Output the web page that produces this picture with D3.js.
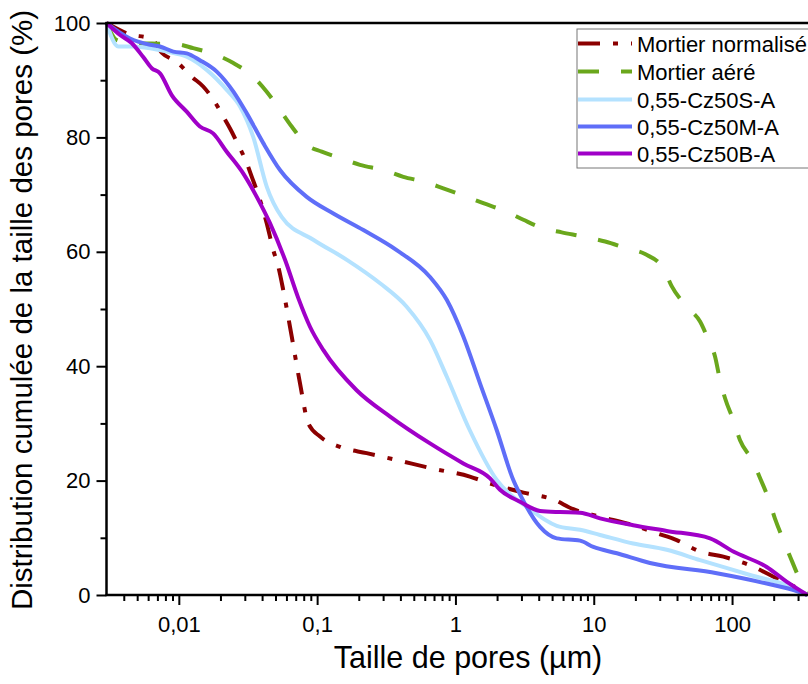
<!DOCTYPE html>
<html><head><meta charset="utf-8">
<script src="https://cdn.jsdelivr.net/npm/d3@7"></script>
<style>
html,body{margin:0;padding:0;background:#fff;}
svg{display:block;font-family:"Liberation Sans",Arial,sans-serif;}
</style></head>
<body>
<svg id="chart" width="808" height="684"></svg>
<script>
// ---- data ----
const seriesNames = ["Mortier normalisé","Mortier aéré","0,55-Cz50S-A","0,55-Cz50M-A","0,55-Cz50B-A"];
const mortierNormalise = [[0.003,100],[0.00431,98.1],[0.00637,97.2],[0.00752,94.8],[0.00966,93.2],[0.0124,90.6],[0.0150,88.9],[0.0182,86.2],[0.0210,83.6],[0.0234,81.6],[0.0269,78.7],[0.0310,75.5],[0.0337,73.1],[0.0386,69.1],[0.0432,65.0],[0.0482,60.3],[0.0524,57.4],[0.0569,53.3],[0.0655,45.2],[0.0752,37.0],[0.0863,30.0],[0.105,27.7],[0.146,25.9],[0.228,24.8],[0.376,23.6],[0.655,22.2],[1.27,20.7],[1.78,19.5],[3.10,17.9],[5.10,16.7],[7.12,15.0],[11.1,13.7],[19.3,12.2],[28.5,10.8],[39.8,9.6],[58.7,7.6],[86.5,6.7],[135,5.2],[199,3.2],[310,0.9],[350,0]];
const mortierAere = [[0.003,100],[0.00356,97.0],[0.00469,96.4],[0.00637,96.4],[0.00966,96.3],[0.0127,95.6],[0.0188,94.4],[0.0248,93.0],[0.0356,90.3],[0.0432,88.0],[0.0539,84.8],[0.0655,81.9],[0.0841,78.7],[0.108,77.5],[0.155,76.2],[0.204,75.2],[0.301,74.3],[0.420,73.1],[0.603,72.2],[0.817,71.1],[1.21,69.6],[1.59,68.5],[2.35,67.0],[3.10,65.6],[4.32,64.1],[5.87,63.4],[8.65,62.6],[12.1,61.8],[17.3,60.6],[23.5,59.6],[31.9,57.1],[36.6,54.0],[47.0,50.4],[58.7,47.8],[67.4,44.6],[75.3,41.7],[81.8,37.6],[89.0,34.4],[102,30.6],[114,27.1],[142,23.3],[159,20.5],[183,16.9],[204,13.4],[235,9.6],[263,6.7],[310,2.6],[350,0]];
const cz50S = [[0.003,100],[0.00365,95.9],[0.00469,95.9],[0.00619,95.6],[0.00817,95.0],[0.0114,94.1],[0.0159,91.8],[0.0222,88.3],[0.0277,85.4],[0.0345,80.1],[0.0432,71.4],[0.0554,66.1],[0.0938,62.1],[0.164,58.6],[0.285,54.5],[0.444,50.4],[0.655,44.6],[0.865,38.2],[1.27,28.8],[1.99,20.1],[3.28,15.4],[5.40,12.1],[7.96,11.4],[11.1,10.5],[19.3,9.0],[33.7,7.9],[58.7,6.1],[135,3.5],[300,0.9],[350,0]];
const cz50M = [[0.003,100],[0.00444,97.3],[0.00619,96.2],[0.00731,95.9],[0.00912,95.0],[0.0114,94.7],[0.0142,93.5],[0.0188,91.5],[0.0248,88.0],[0.0310,84.2],[0.0408,79.0],[0.0539,74.3],[0.0841,69.6],[0.131,66.7],[0.216,63.8],[0.376,60.3],[0.655,55.6],[0.865,51.6],[1.14,45.2],[1.505,37.0],[1.99,28.8],[2.62,20.1],[2.93,17.6],[4.09,11.9],[5.40,9.9],[7.96,9.5],[9.93,8.4],[14.7,7.3],[25.5,5.6],[77.5,3.8],[178,2.0],[300,0.6],[350,0]];
const cz50B = [[0.003,100],[0.00376,97.9],[0.00456,96.5],[0.00551,94.1],[0.00637,92.1],[0.00731,91.2],[0.00888,87.4],[0.0114,84.5],[0.0142,81.9],[0.0177,80.7],[0.0222,77.5],[0.0292,73.7],[0.0366,69.6],[0.0456,65.0],[0.0586,58.6],[0.0731,51.9],[0.0888,46.9],[0.111,42.8],[0.193,35.8],[0.337,31.2],[0.655,26.5],[1.14,23.0],[1.78,20.4],[2.10,18.4],[2.93,16.3],[4.09,14.7],[5.70,14.5],[7.96,14.4],[11.1,13.4],[19.3,12.2],[33.7,11.2],[69.3,9.9],[102,7.6],[178,4.9],[249,2.3],[330,0.4],[350,0]];
const xTickValues = [0.01,0.1,1,10,100];
const xTickLabels = ["0,01","0,1","1","10","100"];
const yTickValues = [0,20,40,60,80,100];
const yTickLabels = ["0","20","40","60","80","100"];
const xTitle = "Taille de pores (µm)";
const yTitle = "Distribution cumulée de la taille des pores (%)";

// ---- layout ----
const svg = d3.select("#chart");
const L = 106.5, R = 809, T = 23, B = 595;
const x = d3.scaleLog().domain([0.003, 360]).range([L, R]);
const y = d3.scaleLinear().domain([0, 100]).range([B, T]);

const colors = ["#8b0000","#6aa71c","#b4e2ff","#5f6ef8","#a000c8"];
const dashes = ["22,13,5,13","21,22",null,null,null];
const datasets = [mortierNormalise, mortierAere, cz50S, cz50M, cz50B];

// lines
const line = d3.line().x(d => x(d[0])).y(d => y(d[1])).curve(d3.curveMonotoneX);
datasets.forEach((ds, i) => {
  svg.append("path").datum(ds)
    .attr("d", line)
    .attr("fill", "none")
    .attr("stroke", colors[i])
    .attr("stroke-width", 4)
    .attr("stroke-dasharray", dashes[i])
    .attr("stroke-linejoin", "round");
});

// minor x ticks
const xMinor = [];
for (let k = -3; k <= 2; k++) for (let m = 2; m <= 9; m++) {
  const v = m * Math.pow(10, k);
  if (v > 0.0031 && v < 360) xMinor.push(v);
}
const gxMinor = svg.append("g").attr("transform", `translate(0,${B})`)
  .call(d3.axisBottom(x).tickValues(xMinor).tickSize(6).tickFormat(""));
const gx = svg.append("g").attr("transform", `translate(0,${B})`)
  .call(d3.axisBottom(x).tickValues(xTickValues).tickSize(10).tickPadding(11)
    .tickFormat((d, i) => xTickLabels[i]));
[gxMinor, gx].forEach(g => {
  g.select(".domain").remove();
  g.selectAll("line").attr("stroke", "#000").attr("stroke-width", 2);
});
gx.selectAll("text").attr("font-size", 22).attr("fill", "#000")
  .attr("font-family", '"Liberation Sans",Arial,sans-serif');

// y ticks
const gyMinor = svg.append("g").attr("transform", `translate(${L},0)`)
  .call(d3.axisLeft(y).tickValues([10,30,50,70,90]).tickSize(6).tickFormat(""));
const gy = svg.append("g").attr("transform", `translate(${L},0)`)
  .call(d3.axisLeft(y).tickValues(yTickValues).tickSize(10).tickPadding(6)
    .tickFormat((d, i) => yTickLabels[i]));
[gyMinor, gy].forEach(g => {
  g.select(".domain").remove();
  g.selectAll("line").attr("stroke", "#000").attr("stroke-width", 2);
});
gy.selectAll("text").attr("font-size", 22).attr("fill", "#000")
  .attr("font-family", '"Liberation Sans",Arial,sans-serif');

// frame lines
svg.append("line").attr("x1", L).attr("x2", L).attr("y1", T - 1).attr("y2", B + 1)
  .attr("stroke", "#000").attr("stroke-width", 2.5);
svg.append("line").attr("x1", L - 1).attr("x2", 808).attr("y1", B).attr("y2", B)
  .attr("stroke", "#000").attr("stroke-width", 2.5);
svg.append("line").attr("x1", L - 1).attr("x2", 808).attr("y1", T).attr("y2", T)
  .attr("stroke", "#000").attr("stroke-width", 2.5);

// titles
svg.append("text").attr("x", 468).attr("y", 668).attr("text-anchor", "middle")
  .attr("font-size", 30.5).attr("fill", "#000").text(xTitle);
svg.append("text").attr("transform", "translate(32,310) rotate(-90)")
  .attr("text-anchor", "middle").attr("font-size", 29.5).attr("fill", "#000").text(yTitle);

// legend
const lg = svg.append("g");
lg.append("rect").attr("x", 577).attr("y", 29).attr("width", 240).attr("height", 139)
  .attr("fill", "#fff").attr("stroke", "#777").attr("stroke-width", 1);
const rowY = [43.5, 71.5, 99.5, 126.5, 153.5];
seriesNames.forEach((name, i) => {
  lg.append("line").attr("x1", 578).attr("x2", 632).attr("y1", rowY[i]).attr("y2", rowY[i])
    .attr("stroke", colors[i]).attr("stroke-width", 4).attr("stroke-dasharray", dashes[i]);
  lg.append("text").attr("x", 637).attr("y", rowY[i] + 8).attr("font-size", 22)
    .attr("fill", "#000").text(name);
});
</script>
</body></html>
